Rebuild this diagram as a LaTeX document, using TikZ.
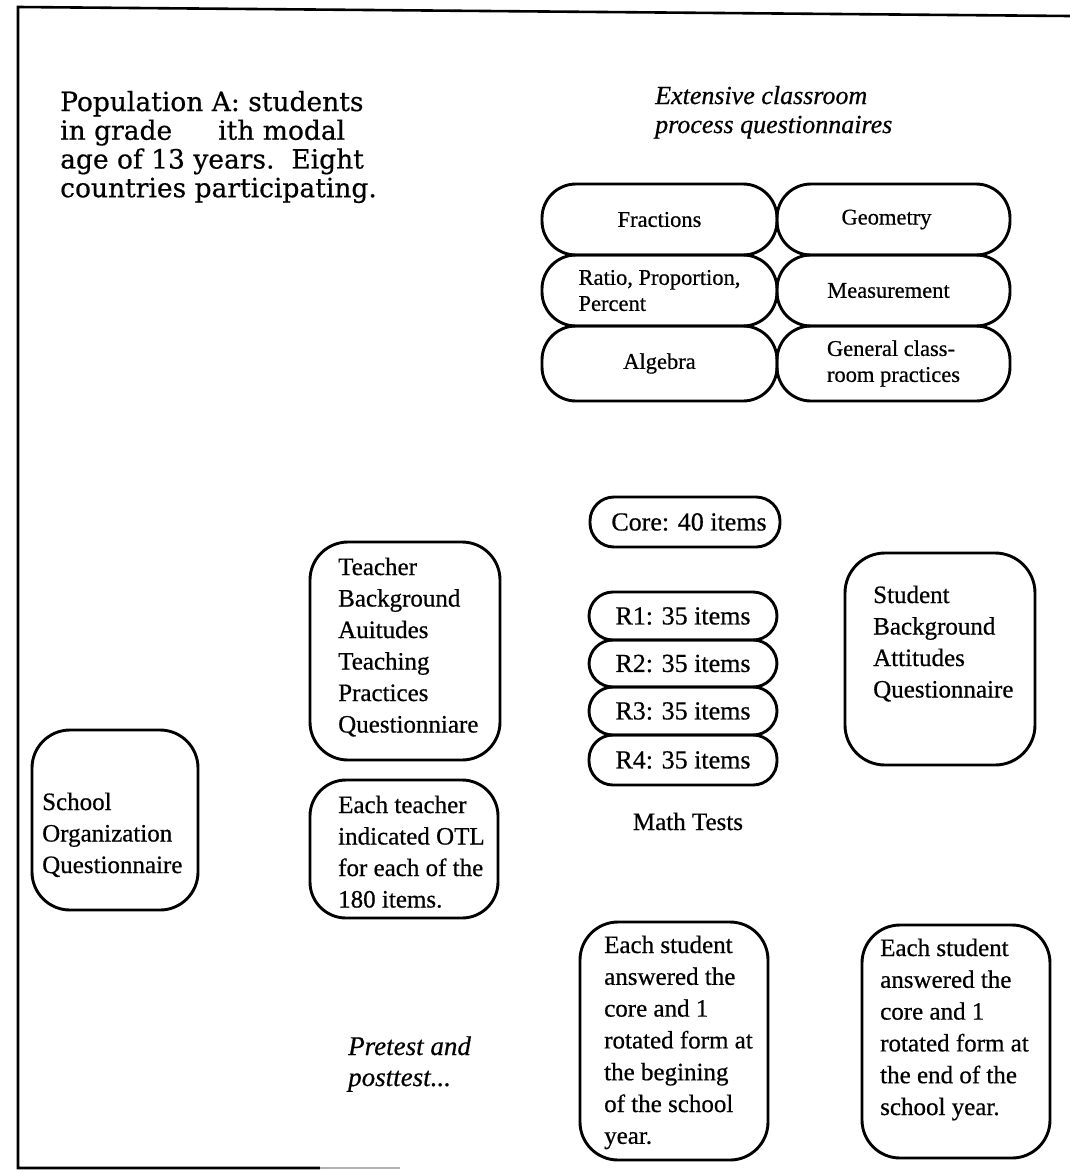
\documentclass[tikz,border=0pt]{standalone}
\usepackage{fontspec}
\setmainfont{Liberation Serif}[FakeBold=0.6]
\newfontfamily\popfont{DejaVu Serif}[FakeBold=0.5]
\newcommand\mlines[1]{\begin{tabular}[t]{@{}l@{}}#1\end{tabular}}
\begin{document}
\begin{tikzpicture}[x=1pt,y=-1pt,
  frame/.style={line width=2.6pt},
  box/.style={draw, line width=2.9pt, rounded corners=#1, inner sep=0pt},
  box/.default=36pt,
  pilltxt/.style={align=left, font=\fontsize{22.5}{26}\selectfont},
  txt/.style={inner sep=0pt, anchor=base west, font=\fontsize{25}{31.5}\selectfont},
  itxt/.style={inner sep=0pt, anchor=base west, font=\fontsize{26}{29}\selectfont\itshape}]
\useasboundingbox (0,0) rectangle (1070,1173);

% frame
\coordinate (ftl) at (18,7);
\coordinate (ftr) at (1070,16);
\coordinate (fbl) at (18,1168);
\coordinate (fbm) at (320,1168);
\coordinate (fbr) at (400,1168);
\draw[frame] (ftr) -- (ftl) -- (fbl) -- (fbm);
\draw[frame, gray!60] (fbm) -- (fbr);

% population text
\node[inner sep=0pt, anchor=base west, font=\popfont\fontsize{26.5}{28.7}\selectfont] (pop) at (60,111)
  {\mlines{Population A: students\\in grade\hspace{46pt}ith modal\\age of 13 years.\ \ Eight\\countries participating.}};

% extensive
\node[itxt] (ext) at (655,104) {\mlines{Extensive classroom\\process questionnaires}};

% pills grid
\node[box=34pt, minimum width=235pt, minimum height=71pt, pilltxt] (frac) at (659.5,219.5) {Fractions};
\node[box=34pt, minimum width=233pt, minimum height=71pt, pilltxt] (geom) at (893.5,219.5) {Geometry\hspace{14pt}};
\node[box=34pt, minimum width=235pt, minimum height=71pt, pilltxt] (ratio) at (659.5,290.5) {Ratio, Proportion,\\Percent};
\node[box=34pt, minimum width=233pt, minimum height=71pt, pilltxt] (meas) at (893.5,290.5) {Measurement\hspace{10pt}};
\node[box=34pt, minimum width=235pt, minimum height=75pt, pilltxt] (alg) at (659.5,363.5) {Algebra};
\node[box=34pt, minimum width=233pt, minimum height=75pt, pilltxt] (gen) at (893.5,363.5) {General class-\\room practices};

% math tests
\node[box=24pt, minimum width=190pt, minimum height=50pt, font=\fontsize{26}{30}\selectfont] (core) at (685,522) {\hspace{8pt}Core: 40 items};
\node[box=24pt, minimum width=188pt, minimum height=48pt, font=\fontsize{26}{30}\selectfont] (r1) at (683,616) {R1: 35 items};
\node[box=24pt, minimum width=188pt, minimum height=47pt, font=\fontsize{26}{30}\selectfont] (r2) at (683,663.5) {R2: 35 items};
\node[box=24pt, minimum width=188pt, minimum height=48pt, font=\fontsize{26}{30}\selectfont] (r3) at (683,711) {R3: 35 items};
\node[box=24pt, minimum width=188pt, minimum height=50pt, font=\fontsize{26}{30}\selectfont] (r4) at (683,760) {R4: 35 items};
\node[inner sep=0pt, anchor=base, font=\fontsize{25}{30}\selectfont] (math) at (688,830) {Math Tests};

% student box
\node[box=40pt, minimum width=190pt, minimum height=212pt] (stud) at (940,659) {};
\node[txt] (studt) at (873,603) {\mlines{Student\\Background\\Attitudes\\Questionnaire}};

% teacher box
\node[box=38pt, minimum width=190pt, minimum height=218pt] (teach) at (405,651) {};
\node[txt] (teacht) at (338,575) {\mlines{Teacher\\Background\\Auitudes\\Teaching\\Practices\\Questionniare}};

% OTL box
\node[box=36pt, minimum width=188pt, minimum height=138pt] (otl) at (404,849) {};
\node[txt] (otlt) at (338,813) {\mlines{Each teacher\\indicated OTL\\for each of the\\180 items.}};

% school box
\node[box=38pt, minimum width=166pt, minimum height=180pt] (school) at (115,820) {};
\node[txt] (schoolt) at (42,810) {\mlines{School\\Organization\\Questionnaire}};

% pretest text
\node[itxt, font=\fontsize{27}{31}\selectfont\itshape] (pre) at (348,1055) {\mlines{Pretest and\\posttest...}};

% pretest box
\node[box=38pt, minimum width=188pt, minimum height=238pt] (prebox) at (674,1041) {};
\node[txt, font=\fontsize{25}{31.8}\selectfont] (pret) at (604,953) {\mlines{Each student\\answered the\\core and 1\\rotated form at\\the begining\\of the school\\year.}};

% posttest box
\node[box=38pt, minimum width=188pt, minimum height=233pt] (postbox) at (956,1041.5) {};
\node[txt, font=\fontsize{25}{31.8}\selectfont] (postt) at (880,956) {\mlines{Each student\\answered the\\core and 1\\rotated form at\\the end of the\\school year.}};
\end{tikzpicture}
\end{document}
